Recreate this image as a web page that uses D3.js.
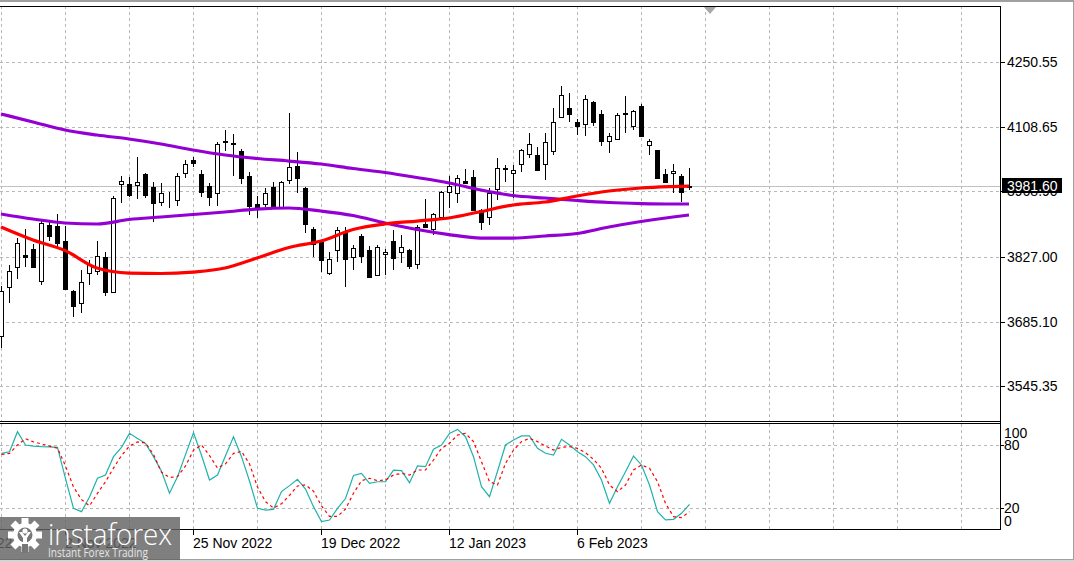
<!DOCTYPE html>
<html>
<head>
<meta charset="utf-8" />
<title>US500 Daily</title>
<script src="https://d3js.org/d3.v7.min.js"></script>
<style>
body { margin:0; background:#fff; }
text { font-family:"Liberation Sans", Arial, sans-serif; font-size:14px; fill:#000; }
.grid { stroke:#b8b8b8; stroke-width:1; stroke-dasharray:3,3; shape-rendering:crispEdges; }
.frame { stroke:#000; stroke-width:1; shape-rendering:crispEdges; }
</style>
</head>
<body>
<div id="chart"></div>
<script>

// daily candles, bar 0 is the leftmost one on screen
var opens = [3654.1,3760.8,3804.3,3830.4,3843.5,3773.8,3895.7,3893.6,3860.9,3752.1,
  3726.0,3791.2,3795.6,3826.1,3749.9,3985.0,3985.0,3982.8,4006.8,3978.5,
  3945.8,3950.2,3950.2,4008.9,4037.2,4006.8,3980.6,3965.4,4077.5,4074.2,
  4056.8,4002.4,3941.5,3941.5,3978.5,3934.9,3993.7,4024.2,3976.3,3887.0,
  3858.7,3791.2,3841.3,3880.5,3826.1,3871.8,3841.3,3786.9,3832.6,3860.9,
  3837.0,3841.3,3810.8,3897.9,3887.0,3913.2,3967.6,3965.4,3991.5,4000.2,
  3928.4,3913.2,3974.1,4018.7,4008.9,4028.5,4050.3,4048.1,4028.5,4056.8,
  4130.8,4150.4,4120.0,4115.6,4163.5,4137.4,4078.6,4083.0,4139.5,4111.2,
  4154.8,4069.9,4059.0,4006.8,4008.9,4002.4,3978.5]
var highs = [3762.9,3808.7,3867.4,3887.0,3854.4,3908.8,3902.3,3919.7,3893.6,3754.2,
  3797.8,3819.6,3860.9,3837.0,3958.9,4002.4,4000.2,4043.8,4008.9,3989.3,
  3987.2,3967.6,4008.9,4037.2,4043.8,4015.5,3987.2,4076.4,4102.5,4093.8,
  4061.2,4011.1,3958.9,3976.3,3989.3,3991.5,4139.5,4054.6,3978.5,3891.4,
  3860.9,3837.0,3891.4,3891.4,3852.2,3876.2,3850.0,3852.2,3843.5,3884.8,
  3874.0,3843.5,3895.7,3952.3,3921.9,3969.8,4002.4,4004.6,4017.6,4015.5,
  3930.5,3976.3,4041.6,4026.3,4026.3,4061.2,4096.0,4065.5,4096.0,4150.4,
  4198.3,4183.1,4126.5,4178.7,4165.7,4146.1,4096.0,4139.5,4176.6,4146.1,
  4159.1,4083.0,4059.0,4017.6,4028.5,4006.8,4019.8]
var lows = [3628.0,3726.0,3778.2,3804.3,3802.1,3765.1,3860.9,3843.5,3754.2,3695.5,
  3704.2,3765.1,3786.9,3741.2,3747.7,3943.6,3956.7,3952.3,3954.5,3902.3,
  3937.1,3932.8,3937.1,3998.1,4022.0,3956.7,3937.1,3937.1,4056.8,4002.4,
  3985.0,3917.5,3911.0,3934.9,3932.8,3932.8,3985.0,3965.4,3878.3,3826.1,
  3793.4,3786.9,3815.2,3760.8,3797.8,3813.0,3780.4,3784.7,3786.9,3797.8,
  3813.0,3800.0,3800.0,3889.2,3874.0,3911.0,3932.8,3943.6,3985.0,3926.2,
  3884.8,3895.7,3950.2,3989.3,3954.5,4011.1,4041.6,4013.0,3993.7,4048.1,
  4128.6,4120.0,4091.6,4089.5,4111.2,4067.7,4052.5,4080.8,4096.0,4102.5,
  4089.5,4048.1,3997.0,3989.3,3965.4,3945.8,3971.9]
var closes = [3752.1,3795.6,3856.5,3827.2,3804.3,3900.1,3871.8,3856.5,3756.4,3719.4,
  3771.7,3808.7,3828.3,3749.9,3954.5,3991.5,3961.0,3989.3,3961.0,3943.6,
  3965.4,3949.1,4002.4,4028.5,4030.7,3967.6,3956.7,4072.1,4078.6,4072.1,
  3998.1,3937.1,3934.9,3965.4,3934.9,3989.3,4022.0,3998.1,3897.9,3854.4,
  3819.6,3821.7,3884.8,3821.7,3845.7,3828.3,3782.5,3847.8,3837.0,3823.9,
  3847.8,3806.5,3891.4,3891.4,3919.7,3967.6,3980.6,3998.1,3987.2,3928.4,
  3902.3,3965.4,4019.8,4019.8,4015.5,4059.0,4072.1,4015.5,4076.4,4120.0,
  4178.7,4137.4,4111.2,4170.0,4120.0,4078.6,4089.5,4135.2,4137.4,4143.9,
  4089.5,4078.6,3998.1,3989.3,4013.3,3967.6,3981.6]

// moving averages read every 4 bars
var maBars = [0,4,8,12,16,20,24,28,32,36,40,44,48,52,56,60,64,68,72,76,80,84,86]
var maSlow = [4137.4,4120.0,4102.5,4091.6,4083.0,4072.1,4059.0,4048.1,4040.5,4035.0,
  4028.5,4018.7,4010.0,3999.1,3987.2,3971.9,3959.9,3954.5,3949.1,3944.7,3942.5,3941.5,3941.5]
var maMid = [3919.7,3908.8,3900.1,3897.9,3907.7,3913.2,3918.6,3924.1,3930.5,3932.8,
  3926.2,3916.4,3900.1,3885.9,3875.0,3867.4,3867.4,3871.8,3877.2,3891.4,3903.3,3913.2,3917.5]
var maFast = [3891.4,3863.1,3840.2,3802.1,3791.2,3790.2,3793.4,3802.1,3823.9,3846.8,
  3860.9,3885.9,3897.9,3904.4,3911.0,3925.1,3939.3,3945.8,3958.9,3969.8,3976.3,3979.5,3980.6]

// stochastic %K and signal
var stochK = [72,73.6,92.7,80,79,78.4,78.3,77.8,48,19.7,16.5,30.5,48.3,51.4,68.9,77.8,91.1,86.3,81.6,68.9,
  55,34,49.8,70.8,91.7,70.2,46.7,51.4,69.8,87.9,68.9,45.7,19.7,18,18.7,35.6,41.3,47.3,38,21.3,
  7,8.6,19.7,29,51,53,43.5,45,45.1,56,55.6,44.1,60,59.4,75.9,80,91.1,94.9,87.9,68.9,
  40.3,30.8,55,80,84.8,88.6,88.6,76.8,72.1,70.5,85.4,80,73.6,68.9,61,46.7,24.4,40.3,54.6,69.5,
  61,41.9,16.5,8.6,9.2,14.9,23.5]
var stochD = [71,72,80,86,83,81,79,77,60,40,28,22,34,45,58,70,79,83,82,71,
  54,49,50,60,75,80,70,58,62,72,74,62,40,26,20,24,32,41,42,36,
  22,12,12,19,34,46,48.3,46,46.7,51.4,53,51.4,56.2,56.2,65.7,76.8,81.6,89.5,91.1,83.2,
  64.1,45.1,41.9,62.5,75.2,83.2,86.3,83.2,79,75.2,77.8,78.4,76.8,72.7,66.3,57.8,41.9,35.6,41.9,56.2,
  61,57.8,45.1,24.4,11.8,10.8,16.5]

var priceTicks = [4250.55,4108.65,3968.90,3827.00,3685.10,3545.35]
var lastPrice = 3981.60
var stochLevels = [100,80,20,0]
var dateBars = [-8,8,24,40,56,72]
var dateLabels = ["11 Oct 2022","2 Nov 2022","25 Nov 2022","19 Dec 2022","12 Jan 2023","6 Feb 2023"]


var size = {width:1074, height:562}
var plot = {left:0, right:1000, top:6, mainBottom:421, subTop:424, subBottom:529}

var svg = d3.select("#chart").append("svg")
  .attr("width", size.width)
  .attr("height", size.height)

var x = d3.scaleLinear().domain([0,86]).range([1,689])
var y = d3.scaleLinear().domain([3545.35,4250.55]).range([386,62])
var ys = d3.scaleLinear().domain([0,100]).range([plot.subBottom, plot.subTop])

var defs = svg.append("defs")
defs.append("clipPath").attr("id","clipMain").append("rect")
  .attr("x",0).attr("y",plot.top).attr("width",plot.right).attr("height",plot.mainBottom-plot.top)
defs.append("clipPath").attr("id","clipSub").append("rect")
  .attr("x",0).attr("y",plot.subTop).attr("width",plot.right).attr("height",plot.subBottom-plot.subTop)

// window edges
svg.append("rect").attr("x",0).attr("y",0).attr("width",size.width).attr("height",2).attr("fill","#a0a0a0")
svg.append("rect").attr("x",0).attr("y",559).attr("width",size.width).attr("height",3).attr("fill","#d4d4d4")
svg.append("line").attr("class","frame").attr("x1",0).attr("x2",size.width).attr("y1",559.5).attr("y2",559.5).style("stroke","#a0a0a0")
svg.append("line").attr("class","frame").attr("x1",1073.5).attr("x2",1073.5).attr("y1",0).attr("y2",560).style("stroke","#a0a0a0")

// vertical grid every 8 bars
var gridBars = d3.range(0,121,8)
svg.append("g").selectAll("line").data(gridBars).enter().append("line")
  .attr("class","grid")
  .attr("x1",function(d){ return x(d)+0.5 }).attr("x2",function(d){ return x(d)+0.5 })
  .attr("y1",plot.top).attr("y2",plot.mainBottom)
svg.append("g").selectAll("line").data(gridBars).enter().append("line")
  .attr("class","grid")
  .attr("x1",function(d){ return x(d)+0.5 }).attr("x2",function(d){ return x(d)+0.5 })
  .attr("y1",plot.subTop).attr("y2",plot.subBottom)

// horizontal grid
svg.append("g").selectAll("line").data(priceTicks).enter().append("line")
  .attr("class","grid")
  .attr("x1",0).attr("x2",plot.right)
  .attr("y1",function(d){ return Math.round(y(d))+0.5 }).attr("y2",function(d){ return Math.round(y(d))+0.5 })
svg.append("g").selectAll("line").data([80,20]).enter().append("line")
  .attr("class","grid")
  .attr("x1",0).attr("x2",plot.right)
  .attr("y1",function(d){ return Math.round(ys(d))+0.5 }).attr("y2",function(d){ return Math.round(ys(d))+0.5 })

// bid line
svg.append("line")
  .attr("x1",0).attr("x2",plot.right)
  .attr("y1",Math.round(y(lastPrice))+0.5).attr("y2",Math.round(y(lastPrice))+0.5)
  .style("stroke","#c0c0c0").style("shape-rendering","crispEdges")

// candles
var bars = opens.map(function(o,i){ return {i:i, o:o, h:highs[i], l:lows[i], c:closes[i]} })
var main = svg.append("g").attr("clip-path","url(#clipMain)")
var candle = main.append("g").selectAll("g").data(bars).enter().append("g")
  .style("shape-rendering","crispEdges")

candle.append("line")
  .attr("x1",function(d){ return x(d.i)+0.5 }).attr("x2",function(d){ return x(d.i)+0.5 })
  .attr("y1",function(d){ return Math.round(y(d.h)) }).attr("y2",function(d){ return Math.round(y(d.l)) })
  .style("stroke","#000")

candle.append("rect")
  .attr("x",function(d){ return x(d.i)-1.5 })
  .attr("width",4)
  .attr("y",function(d){ return Math.round(y(Math.max(d.o,d.c)))+0.5 })
  .attr("height",function(d){ return Math.max(0, Math.round(y(Math.min(d.o,d.c))) - Math.round(y(Math.max(d.o,d.c)))) })
  .attr("fill",function(d){ return d.c >= d.o ? "#fff" : "#000" })
  .style("stroke","#000")

// moving averages
var maLine = d3.line()
  .x(function(d){ return x(d[0]) })
  .y(function(d){ return y(d[1]) })
  .curve(d3.curveMonotoneX)

var maSets = [[maSlow,"#9400d3"],[maMid,"#9400d3"],[maFast,"#ff0000"]]
maSets.forEach(function(s){
  main.append("path")
    .datum(maBars.map(function(b,k){ return [b, s[0][k]] }))
    .attr("d",maLine)
    .attr("fill","none")
    .attr("stroke",s[1])
    .attr("stroke-width",3.2)
    .attr("stroke-linejoin","round")
})

// stochastic
var sub = svg.append("g").attr("clip-path","url(#clipSub)")
var stLine = d3.line()
  .x(function(d,i){ return x(i)+0.5 })
  .y(function(d){ return ys(d) })

sub.append("path").datum(stochK).attr("d",stLine)
  .attr("fill","none").attr("stroke","#20b2aa").attr("stroke-width",1.2)
sub.append("path").datum(stochD).attr("d",stLine)
  .attr("fill","none").attr("stroke","#ff0000").attr("stroke-width",1.2).attr("stroke-dasharray","3,3")

// panel frames
svg.append("line").attr("class","frame").attr("x1",0).attr("x2",plot.right+1).attr("y1",plot.top+0.5).attr("y2",plot.top+0.5)
svg.append("line").attr("class","frame").attr("x1",0).attr("x2",plot.right+1).attr("y1",plot.mainBottom+0.5).attr("y2",plot.mainBottom+0.5)
svg.append("line").attr("class","frame").attr("x1",0).attr("x2",plot.right+1).attr("y1",plot.subTop-0.5).attr("y2",plot.subTop-0.5)
svg.append("line").attr("class","frame").attr("x1",0).attr("x2",plot.right+1).attr("y1",plot.subBottom+0.5).attr("y2",plot.subBottom+0.5)
svg.append("line").attr("class","frame").attr("x1",plot.right+0.5).attr("x2",plot.right+0.5).attr("y1",plot.top).attr("y2",plot.subBottom+1)

// shift marker
svg.append("path")
  .attr("d","M704,7 L716,7 L710,14 Z")
  .attr("fill","#a8a8a8")

// price axis
var pa = svg.append("g")
pa.selectAll("line").data(priceTicks).enter().append("line")
  .attr("class","frame")
  .attr("x1",plot.right+1).attr("x2",plot.right+5)
  .attr("y1",function(d){ return Math.round(y(d))+0.5 }).attr("y2",function(d){ return Math.round(y(d))+0.5 })
pa.selectAll("text").data(priceTicks).enter().append("text")
  .attr("x",1007)
  .attr("y",function(d){ return y(d)+5 })
  .text(function(d){ return d3.format(".2f")(d) })

pa.append("rect")
  .attr("x",1002).attr("y",Math.round(y(lastPrice))-8)
  .attr("width",60).attr("height",15)
  .attr("fill","#000")
pa.append("text")
  .attr("x",1007).attr("y",y(lastPrice)+5)
  .style("fill","#fff")
  .text(d3.format(".2f")(lastPrice))

// stochastic axis
svg.append("g").selectAll("line").data([80,20]).enter().append("line")
  .attr("class","frame")
  .attr("x1",plot.right+1).attr("x2",plot.right+4)
  .attr("y1",function(d){ return Math.round(ys(d))+0.5 }).attr("y2",function(d){ return Math.round(ys(d))+0.5 })
svg.append("g").selectAll("text").data(stochLevels).enter().append("text")
  .attr("x",1004)
  .attr("y",function(d){
    if (d == 100) { return ys(d)+14 }
    if (d == 0) { return ys(d)-3 }
    return ys(d)+5 })
  .text(function(d){ return d })

// time axis
var ta = svg.append("g")
ta.selectAll("line").data(dateBars).enter().append("line")
  .attr("class","frame")
  .attr("x1",function(d){ return x(d)+0.5 }).attr("x2",function(d){ return x(d)+0.5 })
  .attr("y1",plot.subBottom+1).attr("y2",plot.subBottom+6)
ta.selectAll("text").data(dateLabels).enter().append("text")
  .attr("x",function(d,i){ return x(dateBars[i]) })
  .attr("y",548)
  .text(function(d){ return d })

// watermark
var logo = svg.append("g")
logo.append("rect")
  .attr("x",0).attr("y",517).attr("width",180).attr("height",43)
  .attr("fill","#636363").attr("opacity",0.82)

var gear = logo.append("g").attr("transform","translate(25,535)")
d3.range(8).forEach(function(k){
  gear.append("rect")
    .attr("x",-3.5).attr("y",-17).attr("width",7).attr("height",7)
    .attr("fill","#fff")
    .attr("transform","rotate(" + (k*45) + ")")
})
gear.append("circle").attr("r",12).attr("fill","#fff")
gear.append("circle").attr("r",7.5).attr("fill","#777")
gear.append("circle").attr("cy",-4).attr("r",2.6).attr("fill","#fff")
gear.append("path").attr("d","M-6,-3 L-2,3 L-2,15 L2,15 L2,3 L6,-3 L3,-3 L0,1 L-3,-3 Z").attr("fill","#fff")
gear.append("rect").attr("x",-3).attr("y",9).attr("width",6).attr("height",9).attr("fill","#777")

logo.append("text")
  .attr("x",48).attr("y",545)
  .attr("textLength",124).attr("lengthAdjust","spacingAndGlyphs")
  .style("font-family","'Open Sans', sans-serif").style("font-weight",300).style("font-size","30px")
  .style("fill","#fff")
  .text("instaforex")
logo.append("text")
  .attr("x",48).attr("y",557)
  .attr("textLength",100).attr("lengthAdjust","spacingAndGlyphs")
  .style("font-family","'Open Sans', sans-serif").style("font-size","12px")
  .style("fill","#e6e6e6")
  .text("Instant Forex Trading")

</script>
</body>
</html>
